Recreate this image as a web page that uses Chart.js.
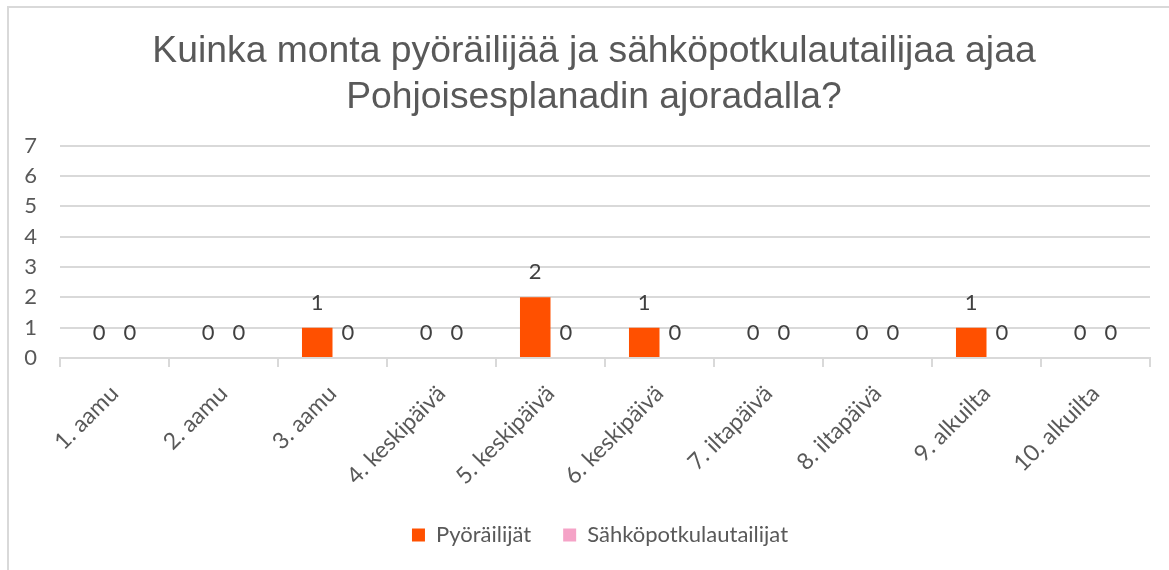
<!DOCTYPE html>
<html>
<head>
<meta charset="utf-8">
<script src="https://cdn.jsdelivr.net/npm/chart.js@4.4.1/dist/chart.umd.min.js"></script>
<style>
  html, body { margin: 0; padding: 0; background: #fff; overflow: hidden; }
  .frame {
    position: absolute; left: 7px; top: 6px;
    width: 1170px; height: 570px;
    border-left: 2px solid #d9d9d9; border-top: 2px solid #d9d9d9;
  }
  .frame canvas { position: absolute; left: 0; top: 0; }
</style>
</head>
<body>
<div class="frame">
  <canvas id="chart" width="1160" height="562"></canvas>
</div>
<script>
const categories = ['1. aamu', '2. aamu', '3. aamu', '4. keskipäivä', '5. keskipäivä',
  '6. keskipäivä', '7. iltapäivä', '8. iltapäivä', '9. alkuilta', '10. alkuilta'];
const cyclists = [0, 0, 1, 0, 2, 1, 0, 0, 1, 0];
const scooters = [0, 0, 0, 0, 0, 0, 0, 0, 0, 0];
const yMax = 7;

const textColor = '#595959';
const bodyFont = 'Lato, "Liberation Sans", sans-serif';
const bodySize = 22;

// value labels above each bar (like Excel "outside end")
const valueLabels = {
  id: 'valueLabels',
  afterDatasetsDraw(chart) {
    const ctx = chart.ctx;
    ctx.save();
    ctx.fillStyle = '#404040';
    ctx.font = bodySize + 'px ' + bodyFont;
    ctx.textAlign = 'center';
    ctx.textBaseline = 'middle';
    chart.data.datasets.forEach((ds, i) => {
      chart.getDatasetMeta(i).data.forEach((bar, j) => {
        ctx.fillText(String(ds.data[j]), bar.x, bar.y - 25);
      });
    });
    ctx.restore();
  }
};

// excel centres title + legend on the whole frame, not on the plot
const centerBlocks = {
  id: 'centerBlocks',
  afterLayout(chart) {
    const t = chart.titleBlock, l = chart.legend;
    if (t) { t.left = 29; t.right = chart.chartArea.right; t.width = t.right - t.left; }
    if (l) { l.left = 35; l.right = chart.chartArea.right + 6; l.width = l.right - l.left; }
  }
};

new Chart(document.getElementById('chart'), {
  type: 'bar',
  data: {
    labels: categories,
    datasets: [
      { label: 'Pyöräilijät', data: cyclists, backgroundColor: '#ff5000' },
      { label: 'Sähköpotkulautailijat', data: scooters, backgroundColor: '#f5a3c7' }
    ]
  },
  options: {
    responsive: false,
    animation: false,
    layout: { padding: { left: 0, right: 19, top: 0, bottom: 14 } },
    datasets: { bar: { barPercentage: 1, categoryPercentage: 0.56 } },
    scales: {
      x: {
        afterFit(scale) { scale.height = 134; },
        grid: { offset: true, drawOnChartArea: false, color: '#d9d9d9', tickLength: 9, lineWidth: 2 },
        border: { display: true, color: '#d9d9d9', width: 2 },
        ticks: {
          color: textColor, font: { size: 23, family: bodyFont },
          minRotation: 45, maxRotation: 45, padding: 13
        }
      },
      y: {
        min: 0, max: yMax,
        afterFit(scale) { scale.width = 51; },
        grid: { color: '#d9d9d9', lineWidth: 2, drawTicks: false },
        border: { display: false },
        ticks: { stepSize: 1, color: textColor, font: { size: bodySize, family: bodyFont }, padding: 23 }
      }
    },
    plugins: {
      title: {
        display: true,
        text: ['Kuinka monta pyöräilijää ja sähköpotkulautailijaa ajaa', 'Pohjoisesplanadin ajoradalla?'],
        color: textColor,
        font: { size: 37.3, family: '"Liberation Sans", Arial, sans-serif', weight: 'normal', lineHeight: 1.23 },
        padding: { top: 21, bottom: 25 }
      },
      legend: {
        position: 'bottom',
        labels: {
          color: textColor, boxWidth: 13, boxHeight: 13, padding: 32,
          font: { size: bodySize, family: bodyFont }
        }
      },
      tooltip: { enabled: false }
    }
  },
  plugins: [valueLabels, centerBlocks]
});
</script>
</body>
</html>
